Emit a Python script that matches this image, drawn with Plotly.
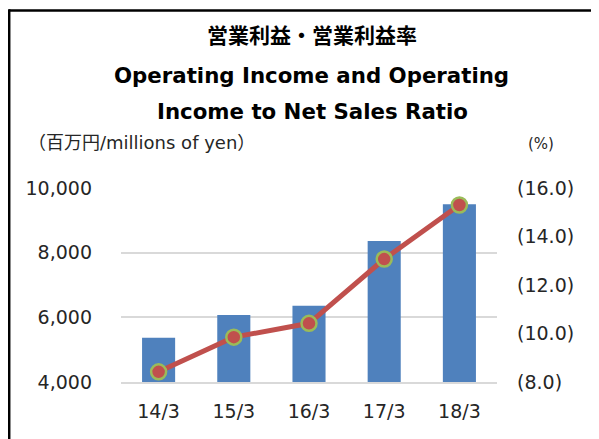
import plotly.graph_objects as go

# ---- data ----
categories = ["14/3", "15/3", "16/3", "17/3", "18/3"]
operating_income = [5370, 6070, 6360, 8360, 9500]          # millions of yen
operating_margin = [8.42, 9.85, 10.42, 13.07, 15.30]       # %
left_tickvals = [4000, 6000, 8000, 10000]
right_tickvals = [8, 10, 12, 14, 16]
right_ticktext = ["(8.0)", "(10.0)", "(12.0)", "(14.0)", "(16.0)"]

title_jp = "営業利益・営業利益率"
title_en1 = "Operating Income and Operating"
title_en2 = "Income to Net Sales Ratio"
left_unit = "（百万円/millions of yen）"
right_unit = "(%)"

# ---- layout geometry (pixels, in reference-image coordinates) ----
OFF = 8  # page body margin
W, H = 599 - OFF, 439 - OFF
L, R, T, B = 121 - OFF, 497 - OFF, 188 - OFF, 382 - OFF
pw, ph = R - L, B - T


def px(x):
    return (x - OFF - L) / pw


def py(y):
    return (B - (y - OFF)) / ph


FONT = "DejaVu Sans"
JP = "Noto Sans CJK JP"
TXT = "#262626"

fig = go.Figure()
fig.add_trace(go.Bar(
    x=categories, y=operating_income, marker=dict(color="#4F81BD", line=dict(width=0)),
    yaxis="y", name="Operating income", showlegend=False,
))
fig.add_trace(go.Scatter(
    x=categories, y=operating_margin, yaxis="y2", mode="lines+markers",
    line=dict(color="#C0504D", width=5),
    marker=dict(size=15, color="#C0504D", line=dict(color="#9BBB59", width=2.5)),
    showlegend=False,
))

fig.update_layout(
    width=W, height=H,
    margin=dict(l=L, r=W - R, t=T, b=H - B, pad=0),
    paper_bgcolor="white", plot_bgcolor="white",
    bargap=0.56,
    font=dict(family=FONT, size=19, color=TXT),
    xaxis=dict(
        showgrid=False, showline=True, linecolor="#D9D9D9", linewidth=2,
        ticks="", ticklabelstandoff=11,
        tickfont=dict(family=FONT, size=19, color=TXT),
    ),
    yaxis=dict(
        range=[4000, 10000], tickvals=left_tickvals, tickformat=",",
        showgrid=True, gridcolor="#D9D9D9", gridwidth=2,
        zeroline=False, showline=False, ticks="", ticklabelstandoff=28,
        tickfont=dict(family=FONT, size=19, color=TXT),
    ),
    yaxis2=dict(
        range=[8, 16], overlaying="y", side="right",
        tickvals=right_tickvals, ticktext=right_ticktext,
        showgrid=False, zeroline=False, showline=False, ticks="", ticklabelstandoff=19,
        tickfont=dict(family=FONT, size=19, color=TXT),
    ),
    shapes=[
        # frame: top edge and left edge of the chart box
        dict(type="line", xref="paper", yref="paper",
             x0=px(9), x1=px(640), y0=py(10.5), y1=py(10.5),
             line=dict(color="black", width=2.5), layer="above"),
        dict(type="line", xref="paper", yref="paper",
             x0=px(9.2), x1=px(9.2), y0=py(9.3), y1=py(480),
             line=dict(color="black", width=2.5), layer="above"),
    ],
)

annos = [
    dict(text="<b>%s</b>" % title_jp, x=px(312), y=py(34), font=dict(family=JP, size=21, color="black"),
         xanchor="center", yanchor="middle"),
    dict(text="<b>%s</b>" % title_en1, x=px(311), y=py(75), font=dict(family=FONT, size=21.3, color="black"),
         xanchor="center", yanchor="middle"),
    dict(text="<b>%s</b>" % title_en2, x=px(312), y=py(111), font=dict(family=FONT, size=21.3, color="black"),
         xanchor="center", yanchor="middle"),
    dict(text=left_unit, x=px(26), y=py(142), font=dict(family=FONT + ", " + JP, size=18, color=TXT),
         xanchor="left", yanchor="middle"),
    dict(text=right_unit, x=px(541), y=py(144), font=dict(family=FONT, size=15, color=TXT),
         xanchor="center", yanchor="middle"),
]
for a in annos:
    a.update(xref="paper", yref="paper", showarrow=False)
fig.update_layout(annotations=annos)

fig.write_html("out.html")
